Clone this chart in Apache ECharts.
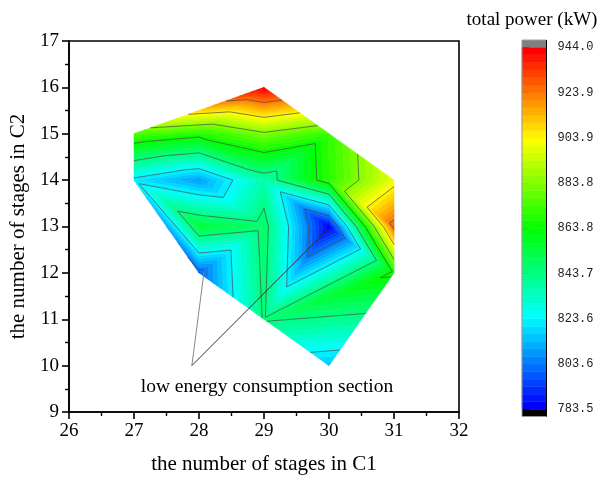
<!DOCTYPE html>
<html>
<head>
<meta charset="utf-8">
<script src="https://cdn.jsdelivr.net/npm/echarts@6/dist/echarts.min.js"></script>
<style>
html, body { margin: 0; padding: 0; background: #fff; }
#chart { width: 604px; height: 480px; }
</style>
</head>
<body>
<div id="chart"></div>
<script>
// Sampled configurations: stages in column C1 (x), stages in column C2 (y)
const stagesC1 = [27, 27, 28, 28, 28, 28, 29, 29, 29, 29, 29, 30, 30, 30, 30, 31, 31, 31];
const stagesC2 = [14, 15, 12, 13, 14, 15, 11, 13, 14, 15, 16, 10, 13, 14, 15, 12, 13, 14];
// Total power (kW) at each configuration
const totalPower = [821, 875, 800, 855, 809, 868, 845, 848, 837, 882, 944.0, 815, 783.5, 870, 871, 866, 928, 900];
// Triangular mesh over the sampled points (indices into the arrays above)
const triangles = [
  [0, 2, 3], [0, 3, 4], [0, 4, 1], [1, 4, 5], [1, 5, 10],
  [2, 6, 7], [2, 7, 3], [3, 7, 4], [4, 7, 8], [4, 8, 5], [5, 8, 9], [5, 9, 10],
  [6, 11, 15], [6, 15, 12], [6, 12, 7], [7, 12, 8], [8, 12, 13], [8, 13, 14], [8, 14, 9], [9, 14, 10],
  [12, 15, 16], [12, 16, 13], [13, 16, 17], [13, 17, 14]
];
// Colour scale tick labels
const colorbarTicks = ['783.5', '803.6', '823.6', '843.7', '863.8', '883.8', '903.9', '923.9', '944.0'];
const powerMin = 783.5;
const powerMax = 944.0;
const bandCount = 48;

const SERIF = '"Liberation Serif", "Times New Roman", serif';
const bandStep = (powerMax - powerMin) / bandCount;
const contourLevels = colorbarTicks.slice(1, -1).map(Number);

function rainbow(t) {
  t = Math.max(0, Math.min(1, t));
  const stops = [[0, 0, 255], [0, 255, 255], [0, 255, 0], [255, 255, 0], [255, 0, 0]];
  const s = t * 4;
  const i = Math.min(3, Math.floor(s));
  const f = s - i;
  const a = stops[i], b = stops[i + 1];
  return 'rgb(' + [0, 1, 2].map(c => Math.round(a[c] + (b[c] - a[c]) * f)).join(',') + ')';
}
const bandColors = [];
for (let k = 0; k < bandCount; k++) bandColors.push(rainbow(k / (bandCount - 1)));

// Keep the part of a polygon (points [x, y, value]) above or below a level
function clipPoly(poly, level, keepAbove) {
  const out = [];
  for (let i = 0; i < poly.length; i++) {
    const a = poly[i], b = poly[(i + 1) % poly.length];
    const ina = keepAbove ? a[2] >= level : a[2] <= level;
    const inb = keepAbove ? b[2] >= level : b[2] <= level;
    if (ina) out.push(a);
    if (ina !== inb) {
      const f = (level - a[2]) / (b[2] - a[2]);
      out.push([a[0] + (b[0] - a[0]) * f, a[1] + (b[1] - a[1]) * f, level]);
    }
  }
  return out;
}

function triPoints(idx) {
  return triangles[idx].map(i => [stagesC1[i], stagesC2[i], totalPower[i]]);
}

// Filled bands: each triangle is split into the parts lying in each colour band
function renderBands(params, api) {
  const tri = triPoints(params.dataIndex);
  const children = [];
  for (let k = 0; k < bandCount; k++) {
    const lo = k === 0 ? -Infinity : powerMin + k * bandStep;
    const hi = k === bandCount - 1 ? Infinity : powerMin + (k + 1) * bandStep;
    let p = tri;
    if (lo > -Infinity) p = clipPoly(p, lo, true);
    if (p.length >= 3 && hi < Infinity) p = clipPoly(p, hi, false);
    if (p.length >= 3) {
      children.push({
        type: 'polygon',
        shape: { points: p.map(q => api.coord([q[0], q[1]])) },
        style: { fill: bandColors[k], stroke: bandColors[k], lineWidth: 0.6 }
      });
    }
  }
  return { type: 'group', children };
}

// Iso-lines at the labelled levels of the colour scale
function renderContours(params, api) {
  const tri = triPoints(params.dataIndex);
  const children = [];
  contourLevels.forEach(L => {
    const pts = [];
    for (let i = 0; i < 3; i++) {
      const a = tri[i], b = tri[(i + 1) % 3];
      if ((a[2] >= L) !== (b[2] >= L)) {
        const f = (L - a[2]) / (b[2] - a[2]);
        pts.push(api.coord([a[0] + (b[0] - a[0]) * f, a[1] + (b[1] - a[1]) * f]));
      }
    }
    if (pts.length === 2) {
      children.push({
        type: 'line',
        shape: { x1: pts[0][0], y1: pts[0][1], x2: pts[1][0], y2: pts[1][1] },
        style: { stroke: 'rgba(70,70,70,0.85)', lineWidth: 0.8 }
      });
    }
  });
  return { type: 'group', children };
}

// Colour scale: band k spans tick-units k*(tickCount-1)/bandCount
const bandUnits = (colorbarTicks.length - 1) / bandCount;
const overUnits = 0.16;
function renderColorbar(params, api) {
  const k = params.dataIndex;
  const p0 = api.coord([0, k * bandUnits]);
  const p1 = api.coord([1, (k + 1) * bandUnits]);
  return {
    type: 'rect',
    shape: { x: p0[0], y: p1[1], width: p1[0] - p0[0], height: p0[1] - p1[1] },
    style: { fill: bandColors[k], stroke: bandColors[k], lineWidth: 0.5 }
  };
}
function renderColorbarFrame(params, api) {
  const top = colorbarTicks.length - 1;
  const a = api.coord([0, top + overUnits]);
  const b = api.coord([1, top]);
  const c = api.coord([0, 0]);
  const d = api.coord([1, -overUnits]);
  return {
    type: 'group',
    children: [
      { type: 'rect', shape: { x: a[0], y: a[1], width: b[0] - a[0], height: b[1] - a[1] }, style: { fill: '#808080' } },
      { type: 'rect', shape: { x: c[0], y: c[1], width: d[0] - c[0], height: d[1] - c[1] }, style: { fill: '#000' } },
      { type: 'rect', shape: { x: a[0], y: a[1], width: d[0] - a[0], height: d[1] - a[1] }, style: { fill: 'none', stroke: '#999', lineWidth: 1 } },
      { type: 'line', shape: { x1: d[0], y1: a[1], x2: d[0], y2: d[1] }, style: { stroke: '#000', lineWidth: 1 } }
    ]
  };
}

const chart = echarts.init(document.getElementById('chart'));
const axisCommon = {
  type: 'value',
  interval: 1,
  axisLine: { show: true, onZero: false, lineStyle: { color: '#000', width: 1.6 } },
  axisTick: { show: true, inside: false, length: 7, lineStyle: { color: '#000', width: 1.6 } },
  minorTick: { show: true, splitNumber: 2, length: 4, lineStyle: { color: '#000', width: 1.4 } },
  splitLine: { show: false },
  axisLabel: { color: '#000', fontFamily: SERIF, fontSize: 19 },
  nameLocation: 'middle',
  nameTextStyle: { color: '#000', fontFamily: SERIF, fontSize: 21 }
};

chart.setOption({
  animation: false,
  backgroundColor: '#fff',
  grid: [
    { left: 69, top: 41, width: 390, height: 375, show: true, borderColor: '#000', borderWidth: 1.6, backgroundColor: 'transparent' },
    { left: 522, top: 47.3, width: 24.5, height: 362 }
  ],
  xAxis: [
    Object.assign({}, axisCommon, {
      gridIndex: 0, min: 26, max: 32,
      name: 'the number of stages in C1', nameGap: 42,
      axisLabel: Object.assign({}, axisCommon.axisLabel, { margin: 10 })
    }),
    { gridIndex: 1, type: 'value', min: 0, max: 1, show: false }
  ],
  yAxis: [
    Object.assign({}, axisCommon, {
      gridIndex: 0, min: 9, max: 17,
      name: 'the number of stages in C2', nameGap: 33,
      axisLabel: Object.assign({}, axisCommon.axisLabel, { margin: 10 })
    }),
    {
      gridIndex: 1, type: 'value', position: 'right', min: 0, max: colorbarTicks.length - 1, interval: 1,
      axisLine: { show: false },
      axisTick: { show: true, length: 7, lineStyle: { color: '#000', width: 1 } },
      splitLine: { show: false },
      axisLabel: {
        margin: 11, color: '#222', fontFamily: '"Liberation Mono", monospace', fontSize: 12,
        formatter: v => colorbarTicks[Math.round(v)]
      }
    }
  ],
  graphic: [
    { type: 'text', x: 532, y: 20, style: { text: 'total power (kW)', textAlign: 'center', textVerticalAlign: 'middle', font: '19px ' + SERIF, fill: '#000' } },
    { type: 'text', x: 267, y: 387, z: 20, style: { text: 'low energy consumption section', textAlign: 'center', textVerticalAlign: 'middle', font: '19.5px ' + SERIF, fill: '#000' } }
  ],
  series: [
    {
      type: 'custom', xAxisIndex: 0, yAxisIndex: 0, z: 2,
      renderItem: renderBands,
      data: triangles.map((t, i) => i)
    },
    {
      type: 'custom', xAxisIndex: 0, yAxisIndex: 0, z: 3,
      renderItem: renderContours,
      data: triangles.map((t, i) => i),
      markLine: {
        silent: true, symbol: 'none', animation: false,
        label: { show: false },
        data: [
          [{ coord: [27.89, 10.0], lineStyle: { color: '#888', width: 1, type: 'solid' } }, { coord: [28.08, 12.05] }],
          [{ coord: [27.89, 10.0], lineStyle: { color: '#333', width: 1, type: 'solid' } }, { coord: [29.97, 12.92] }]
        ]
      }
    },
    {
      type: 'custom', xAxisIndex: 1, yAxisIndex: 1, z: 2,
      renderItem: renderColorbar,
      data: bandColors.map((c, i) => i)
    },
    {
      type: 'custom', xAxisIndex: 1, yAxisIndex: 1, z: 3,
      renderItem: renderColorbarFrame,
      data: [0]
    }
  ]
});
</script>
</body>
</html>
